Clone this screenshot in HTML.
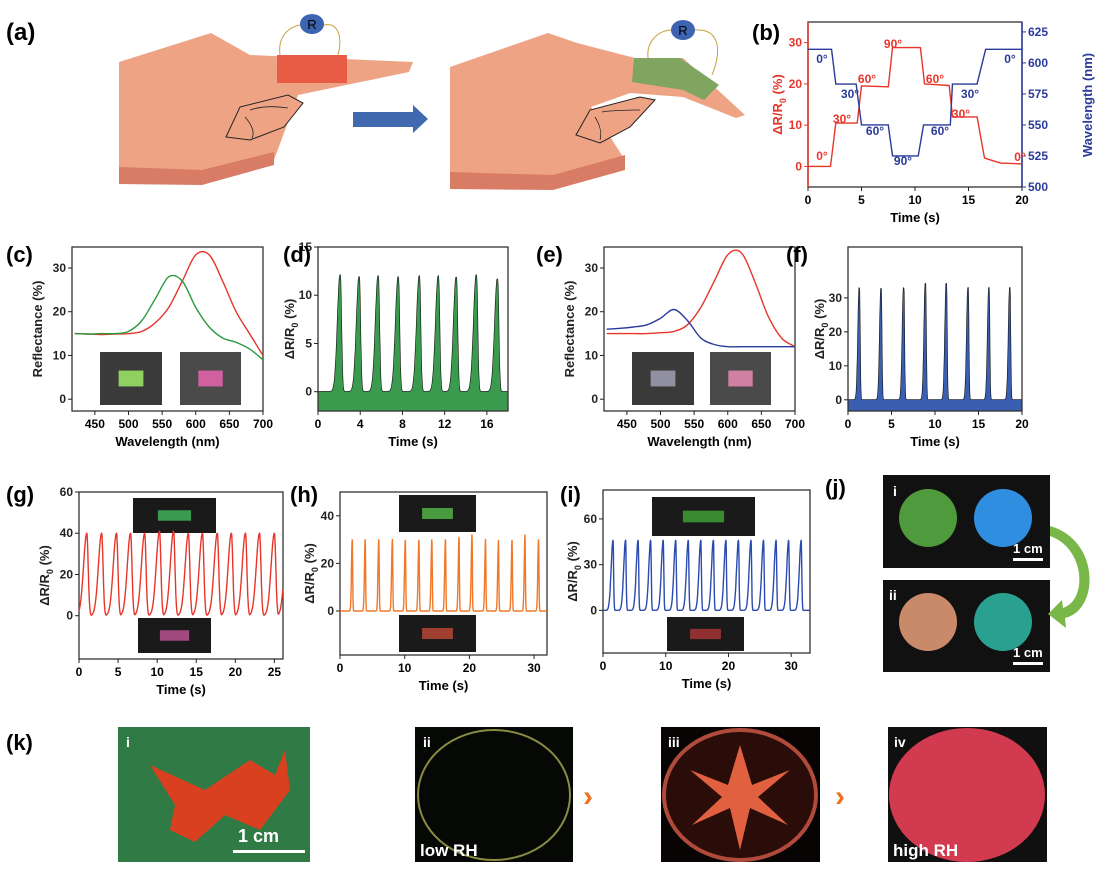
<!DOCTYPE html>
<html><head><meta charset="utf-8"><style>
body{margin:0;background:#fff;width:1105px;height:878px;overflow:hidden}
svg{font-family:"Liberation Sans",Arial,sans-serif;font-weight:bold}
</style></head><body>
<svg id="fig" width="1105" height="878" viewBox="0 0 1105 878">
<g>
<text x="6" y="40" font-size="24">(a)</text>
<polygon points="119,62 211,33 250,55 413,62 409,72 346,85 298,95 274,160 202,178 119,177" fill="#eea385"/>
<polygon points="119,167 202,170 274,152 274,165 202,185 119,184" fill="#d87c66"/>
<polygon points="226,137 240,107 288,95 303,103 284,127 250,140" fill="#eea385" stroke="#222" stroke-width="1"/>
<path d="M250,110 C262,106 275,106 288,108 M245,117 C252,125 255,132 252,138" stroke="#222" fill="none" stroke-width="0.8"/>
<rect x="277" y="55" width="70" height="28" fill="#e85c45"/>
<path d="M280,55 C278,40 285,28 300,25 M324,25 C340,22 342,40 338,55" stroke="#c9a040" fill="none"/>
<ellipse cx="312" cy="24" rx="12" ry="10" fill="#3d64b0"/><text x="312" y="29" font-size="13" text-anchor="middle" font-weight="normal">R</text>
<polygon points="353,112 413,112 413,105 428,119 413,133 413,127 353,127" fill="#4169b0"/>
<polygon points="450,67 548,33 577,43 635,58 683,58 745,115 736,118 683,97 630,93 591,107 625,160 553,182 450,182" fill="#eea385"/>
<polygon points="450,172 553,175 625,155 625,170 553,190 450,189" fill="#d87c66"/>
<polygon points="576,135 590,110 640,97 655,100 630,127 600,143" fill="#eea385" stroke="#222" stroke-width="1"/>
<path d="M602,112 C614,110 628,110 640,110 M595,117 C600,125 602,132 600,140" stroke="#222" fill="none" stroke-width="0.8"/>
<polygon points="634,58 680,58 719,85 704,100 683,90 632,82" fill="#80a560"/>
<path d="M648,58 C646,40 660,30 672,30 M694,30 C720,28 722,50 712,75" stroke="#c9a040" fill="none"/>
<ellipse cx="683" cy="30" rx="12" ry="10" fill="#3d64b0"/><text x="683" y="35" font-size="13" text-anchor="middle" font-weight="normal">R</text>
</g>
<g id="charts"></g>
<g>
<text x="825" y="495" font-size="22">(j)</text>
<rect x="883" y="475" width="167" height="93" fill="#111"/>
<rect x="883" y="580" width="167" height="92" fill="#111"/>
<circle cx="928" cy="518" r="29" fill="#4f9a3c"/><circle cx="1003" cy="518" r="29" fill="#2f8ee0"/>
<circle cx="928" cy="622" r="29" fill="#c98a6a"/><circle cx="1003" cy="622" r="29" fill="#2aa190"/>
<text x="893" y="496" font-size="14" fill="#fff">i</text><text x="889" y="600" font-size="14" fill="#fff">ii</text>
<text x="1013" y="553" font-size="13" fill="#fff">1 cm</text><rect x="1013" y="558" width="30" height="3" fill="#fff"/>
<text x="1013" y="657" font-size="13" fill="#fff">1 cm</text><rect x="1013" y="662" width="30" height="3" fill="#fff"/>
<path d="M1050,526 C1100,540 1100,610 1065,618 L1066,628 1048,614 1062,600 1063,608 C1088,600 1085,548 1050,536 Z" fill="#79b748"/>
</g>
<g>
<text x="6" y="750" font-size="22">(k)</text>
<rect x="118" y="727" width="192" height="135" fill="#2f7a45"/>
<path d="M150,765 L205,790 250,760 275,775 285,750 290,790 260,830 225,815 195,842 170,830 175,805 Z" fill="#d84020"/>
<text x="126" y="747" font-size="14" fill="#fff">i</text>
<text x="238" y="842" font-size="18" fill="#fff">1 cm</text><rect x="233" y="850" width="72" height="3" fill="#fff"/>
<rect x="415" y="727" width="158" height="135" fill="#060806"/>
<ellipse cx="494" cy="795" rx="76" ry="65" fill="none" stroke="#8a8a40" stroke-width="2"/>
<text x="423" y="747" font-size="14" fill="#fff">ii</text><text x="420" y="856" font-size="17" fill="#fff">low RH</text>
<text x="583" y="806" font-size="30" fill="#f07020">›</text>
<rect x="661" y="727" width="159" height="135" fill="#080404"/>
<ellipse cx="740" cy="795" rx="76" ry="65" fill="#2a0c08" stroke="#b04a3a" stroke-width="4"/>
<path d="M740,745 L752,785 790,770 758,797 788,825 750,808 740,850 730,808 692,825 722,797 690,770 728,785 Z" fill="#e06040"/>
<text x="668" y="747" font-size="14" fill="#fff">iii</text>
<text x="835" y="806" font-size="30" fill="#f07020">›</text>
<rect x="888" y="727" width="159" height="135" fill="#101010"/>
<ellipse cx="967" cy="795" rx="78" ry="67" fill="#d23a50"/>
<text x="894" y="747" font-size="14" fill="#fff">iv</text><text x="893" y="856" font-size="17" fill="#fff">high RH</text>
</g>
</svg>
<script>
// ---- data ----
const bTime=[0,2.1,2.6,4.6,5.0,7.5,7.9,10.5,10.9,13.2,13.5,15.8,16.5,18,20];
const bResist=[0,0,10.5,10.5,19.5,19.3,28.8,28.8,20,19.6,12,12,2,0.8,0.6];
const bWaveT=[0,2.2,2.6,4.5,5.0,7.5,7.9,10.3,10.8,13.3,13.5,15.8,16.6,20];
const bWave=[611,611,583,583,550,550,525,525,550,550,583,583,611,611];
const specWl=[420,440,460,480,500,520,540,560,580,600,620,640,660,680,700];
const cRed=[15,14.9,14.8,14.9,15,15.5,17.5,21,27,33,33,27,20,15,10];
const cGreen=[15,14.9,15,15,15.5,18,23,28,27,21,16.5,14,13,11.5,9];
const eRed=[15,15,15,15,15.2,15.5,17,21,27,33,33.5,27,19,14,12];
const eBlue=[16,16.2,16.5,17,18.5,20.5,18,14,12.5,12,12,12,12,12,12];
const dPeakT=[2.1,3.9,5.7,7.6,9.6,11.4,13.1,15,17];
const dPeakH=[12.1,11.9,12,11.9,12,12,11.9,12.1,11.7];
const fPeakT=[1.3,3.8,6.4,8.9,11.3,13.8,16.2,18.6];
const fPeakH=[33,33,33,34.5,34.5,33,33,33];
const gPeakT=[1,2.9,4.8,6.6,8.4,10.3,12.1,14,15.8,17.7,19.5,21.3,23.1,25,26.7];
const gPeakH=[40,40,40,40,40,41,41,40,40,40,40,40,40,40,39];
const hPeakT=[1.9,3.9,6,8.1,10.1,12.2,14.2,16.3,18.4,20.4,22.5,24.5,26.6,28.6,30.7];
const hPeakH=[30,30,30,30,30,30,30,30,31,32,30,30,30,32,30];
const iPeakT=[1.6,3.6,5.6,7.6,9.6,11.6,13.6,15.6,17.6,19.6,21.6,23.6,25.6,27.6,29.6,31.6];
const iPeakH=[46,46,46,46,46,46,46,46,46,46,46,46,46,46,46,46];
// ---- helpers ----
const NS="http://www.w3.org/2000/svg",root=document.getElementById('charts');
function mk(tag,at,txt,par){const e=document.createElementNS(NS,tag);for(const k in at)e.setAttribute(k,at[k]);if(txt!=null)e.textContent=txt;(par||root).appendChild(e);return e;}
function axes(o){
 const g=mk('g',{});
 
 
 const sx=v=>o.x0+(v-o.xmin)/(o.xmax-o.xmin)*(o.x1-o.x0);
 const sy=v=>o.y1-(v-o.ymin)/(o.ymax-o.ymin)*(o.y1-o.y0);
 return {g,sx,sy};
}
function frame(o,A,lc){
 const g=A.g,c=lc||'#222';
 mk('rect',{x:o.x0,y:o.y0,width:o.x1-o.x0,height:o.y1-o.y0,fill:'none',stroke:'#333','stroke-width':1.3},null,g);
 if(lc) mk('line',{x1:o.x0,y1:o.y0,x2:o.x0,y2:o.y1,stroke:lc,'stroke-width':1.5},null,g);
 o.xt.forEach(v=>{const x=A.sx(v);mk('line',{x1:x,y1:o.y1,x2:x,y2:o.y1+4,stroke:'#222'},null,g);
  const t=mk('text',{x:x,y:o.y1+17,'font-size':12,'text-anchor':'middle'},v,g);
  });
 o.yt.forEach(v=>{const y=A.sy(v);mk('line',{x1:o.x0-4,y1:y,x2:o.x0,y2:y,stroke:c},null,g);
  const t=mk('text',{x:o.x0-6,y:y+4,'font-size':12,'text-anchor':'end',fill:c},v,g);
  });
 const xt=mk('text',{x:(o.x0+o.x1)/2,y:o.y1+35,'font-size':13,'text-anchor':'middle'},o.xl,g);
 
 const yt=mk('text',{transform:`translate(${o.x0-(o.yoff||28)},${(o.y0+o.y1)/2}) rotate(-90)`,'font-size':13,'text-anchor':'middle',fill:c},null,g);
 
 if(o.yl==='dr'){mk('tspan',{},'ΔR/R',yt);mk('tspan',{'font-size':9,dy:4},'0',yt);mk('tspan',{dy:-4},' (%)',yt);} else yt.textContent=o.yl;
 const pl=mk('text',{x:o.lx,y:o.ly,'font-size':22},o.lab,g);
 
}
function line(A,xs,ys,col,nm,w,smooth){
 const P=xs.map((x,i)=>[A.sx(x),A.sy(ys[i])]);let d;
 if(smooth){d='M'+P[0][0].toFixed(1)+','+P[0][1].toFixed(1);
  for(let i=0;i<P.length-1;i++){const p0=P[i-1]||P[i],p1=P[i],p2=P[i+1],p3=P[i+2]||p2;
   const c1=[p1[0]+(p2[0]-p0[0])/6,p1[1]+(p2[1]-p0[1])/6],c2=[p2[0]-(p3[0]-p1[0])/6,p2[1]-(p3[1]-p1[1])/6];
   d+=`C${c1[0].toFixed(1)},${c1[1].toFixed(1)} ${c2[0].toFixed(1)},${c2[1].toFixed(1)} ${p2[0].toFixed(1)},${p2[1].toFixed(1)}`;}}
 else d=P.map((p,i)=>(i?'L':'M')+p[0].toFixed(1)+','+p[1].toFixed(1)).join('');
 const p=mk('path',{d:d,fill:'none',stroke:col,'stroke-width':w||1.4,'stroke-linejoin':'round'},null,A.g);
 return d;}
function pulses(tmax,pt,ph,wid,sharp){const xs=[],ys=[];for(let t=0;t<=tmax;t+=0.03){let v=0;pt.forEach((p,i)=>{const d=t-p;const w=d<0?wid:wid*sharp;v=Math.max(v,ph[i]*Math.exp(-(d*d)/(2*w*w)));});xs.push(t);ys.push(v);}return [xs,ys];}
function insetImg(g,x,y,w,h,fill,band){mk('rect',{x:x,y:y,width:w,height:h,fill:fill},null,g);if(band)mk('rect',{x:x+w*0.3,y:y+h*0.35,width:w*0.4,height:h*0.3,fill:band},null,g);}
// ---- (b) ----
{const o={name:'chart-b',x0:808,x1:1022,y0:22,y1:187,xmin:0,xmax:20,ymin:-5,ymax:35,xt:[0,5,10,15,20],yt:[0,10,20,30],xl:'Time (s)',yl:'dr',lab:'(b)',lx:752,ly:40,yoff:26};
 const A=axes(o);frame(o,A,'#e8352a');
 const sy2=v=>187-(v-500)/(633-500)*165;
 mk('line',{x1:1022,y1:22,x2:1022,y2:187,stroke:'#2a3a9a','stroke-width':1.5},null,A.g);
 [500,525,550,575,600,625].forEach(v=>{mk('line',{x1:1022,y1:sy2(v),x2:1026,y2:sy2(v),stroke:'#2a3a9a'},null,A.g);mk('text',{x:1028,y:sy2(v)+4,'font-size':12,fill:'#2a3a9a'},v,A.g);});
 mk('text',{transform:'translate(1092,105) rotate(-90)','font-size':13,'text-anchor':'middle',fill:'#2a3a9a'},'Wavelength (nm)',A.g);
 line(A,bTime,bResist,'#e8352a','resistance-line');
 const d=bWaveT.map((t,i)=>(i?'L':'M')+A.sx(t)+','+sy2(bWave[i])).join('');
 const p=mk('path',{d:d,fill:'none',stroke:'#2a3a9a','stroke-width':1.4},null,A.g);
 
 [[822,160,'0°'],[842,123,'30°'],[867,83,'60°'],[893,48,'90°'],[935,83,'60°'],[961,118,'30°'],[1020,161,'0°']].forEach(a=>mk('text',{x:a[0],y:a[1],'font-size':12,fill:'#e8352a','text-anchor':'middle'},a[2],A.g));
 [[822,63,'0°'],[850,98,'30°'],[875,135,'60°'],[903,165,'90°'],[940,135,'60°'],[970,98,'30°'],[1010,63,'0°']].forEach(a=>mk('text',{x:a[0],y:a[1],'font-size':12,fill:'#2a3a9a','text-anchor':'middle'},a[2],A.g));
}
// ---- (c) ----
{const o={name:'chart-c',x0:72,x1:263,y0:247,y1:411,xmin:416,xmax:700,ymin:-2.7,ymax:34.8,xt:[450,500,550,600,650,700],yt:[0,10,20,30],xl:'Wavelength (nm)',yl:'Reflectance (%)',lab:'(c)',lx:6,ly:262,yoff:30};
 const A=axes(o);frame(o,A);
 insetImg(A.g,100,352,62,53,'#3a3a3a','#8fd060');insetImg(A.g,180,352,61,53,'#4a4a4a','#d060a0');
 line(A,specWl,cRed,'#e8352a','red-spectrum',1.4,true);line(A,specWl,cGreen,'#2a9a40','green-spectrum',1.4,true);}
// ---- (d) ----
{const o={name:'chart-d',x0:318,x1:508,y0:247,y1:411,xmin:0,xmax:18,ymin:-2,ymax:15,xt:[0,4,8,12,16],yt:[0,5,10,15],xl:'Time (s)',yl:'dr',lab:'(d)',lx:283,ly:262,yoff:24};
 const A=axes(o);const [xs,ys]=pulses(18,dPeakT,dPeakH,0.25,0.45);
 const d=line(A,xs,ys,'#111','d-signal',1.2);
 const f=mk('path',{d:d+`L${A.sx(18)},${A.sy(-2)}L${A.sx(0)},${A.sy(-2)}Z`,fill:'#3a9a4e'},null,A.g);
 
 A.g.insertBefore(f,A.g.lastChild);frame(o,A);}
// ---- (e) ----
{const o={name:'chart-e',x0:604,x1:795,y0:247,y1:411,xmin:416,xmax:700,ymin:-2.7,ymax:34.8,xt:[450,500,550,600,650,700],yt:[0,10,20,30],xl:'Wavelength (nm)',yl:'Reflectance (%)',lab:'(e)',lx:536,ly:262,yoff:30};
 const A=axes(o);frame(o,A);
 insetImg(A.g,632,352,62,53,'#3a3a3a','#9090a0');insetImg(A.g,710,352,61,53,'#4a4a4a','#d080a0');
 line(A,specWl,eRed,'#e8352a','red-spectrum',1.4,true);line(A,specWl,eBlue,'#2a3a9a','blue-spectrum',1.4,true);}
// ---- (f) ----
{const o={name:'chart-f',x0:848,x1:1022,y0:247,y1:411,xmin:0,xmax:20,ymin:-3.3,ymax:45,xt:[0,5,10,15,20],yt:[0,10,20,30],xl:'Time (s)',yl:'dr',lab:'(f)',lx:786,ly:262,yoff:24};
 const A=axes(o);const [xs,ys]=pulses(20,fPeakT,fPeakH,0.15,0.5);
 const d=line(A,xs,ys,'#111','f-signal',1.2);
 const f=mk('path',{d:d+`L${A.sx(20)},${A.sy(-3.3)}L${A.sx(0)},${A.sy(-3.3)}Z`,fill:'#3a5fb0'},null,A.g);
 
 A.g.insertBefore(f,A.g.lastChild);frame(o,A);}
// ---- (g) ----
{const o={name:'chart-g',x0:79,x1:283,y0:492,y1:659,xmin:0,xmax:26.1,ymin:-21,ymax:60,xt:[0,5,10,15,20,25],yt:[0,20,40,60],xl:'Time (s)',yl:'dr',lab:'(g)',lx:6,ly:502,yoff:30};
 const A=axes(o);frame(o,A);
 insetImg(A.g,133,498,83,35,'#1a1a1a','#3a9a50');insetImg(A.g,138,618,73,35,'#1a1a1a','#a04a80');
 const [xs,ys]=pulses(26.1,gPeakT,gPeakH,0.42,0.42);line(A,xs,ys,'#e8352a','g-signal');}
// ---- (h) ----
{const o={name:'chart-h',x0:340,x1:547,y0:492,y1:655,xmin:0,xmax:32,ymin:-18.5,ymax:50,xt:[0,10,20,30],yt:[0,20,40],xl:'Time (s)',yl:'dr',lab:'(h)',lx:290,ly:502,yoff:26};
 const A=axes(o);frame(o,A);
 insetImg(A.g,399,495,77,37,'#1a1a1a','#4a9a40');insetImg(A.g,399,615,77,37,'#1a1a1a','#a04030');
 const [xs,ys]=pulses(32,hPeakT,hPeakH,0.12,0.5);line(A,xs,ys,'#f07828','h-signal');}
// ---- (i) ----
{const o={name:'chart-i',x0:603,x1:810,y0:490,y1:653,xmin:0,xmax:33,ymin:-28,ymax:79,xt:[0,10,20,30],yt:[0,30,60],xl:'Time (s)',yl:'dr',lab:'(i)',lx:560,ly:502,yoff:26};
 const A=axes(o);frame(o,A);
 insetImg(A.g,652,497,103,39,'#1a1a1a','#3a8a30');insetImg(A.g,667,617,77,34,'#1a1a1a','#903030');
 const [xs,ys]=pulses(33,iPeakT,iPeakH,0.3,0.3);line(A,xs,ys,'#2a4ab0','i-signal');}
</script>
</body></html>
